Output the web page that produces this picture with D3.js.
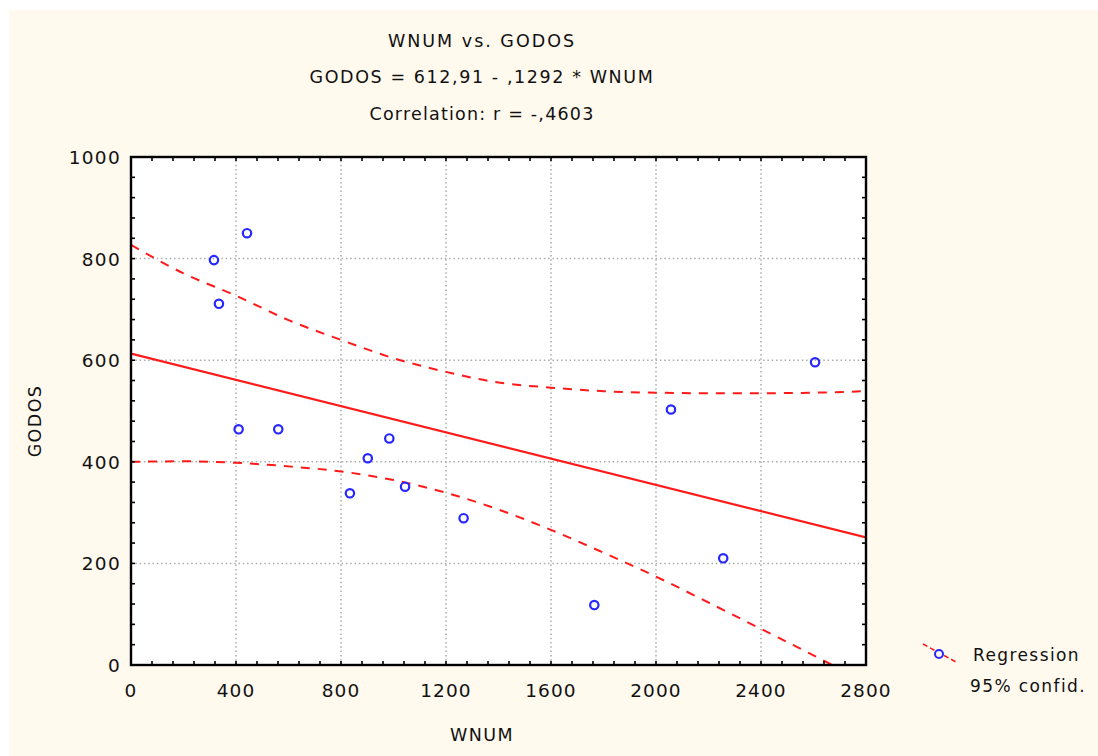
<!DOCTYPE html>
<html>
<head>
<meta charset="utf-8">
<script src="https://cdn.jsdelivr.net/npm/d3@7"></script>
<style>
  html, body { margin: 0; padding: 0; background: #ffffff; }
  svg { display: block; }
  text { font-family: "DejaVu Sans", sans-serif; fill: #111; }
</style>
</head>
<body>
<svg id="chart" width="1098" height="756"></svg>
<script>
// Observations: WNUM (x) and GODOS (y)
const wnum  = [316, 442, 335, 410, 561, 834, 902, 984, 1044, 1267, 1765, 2057, 2256, 2606];
const godos = [797, 850, 711, 464, 464, 338, 407, 446, 351, 289, 118, 503, 210, 596];

// Fitted line GODOS = 612.91 - 0.1292 * WNUM
const intercept = 612.91;
const slope = -0.1292;

// 95% confidence limits of the fitted line
const bandX     = [0, 200, 400, 600, 800, 1000, 1200, 1400, 1600, 1800, 2000, 2200, 2400, 2600, 2800];
const bandUpper = [827, 771, 727, 679, 640, 604, 577, 556, 546, 539, 536, 535, 535, 536, 539];
const bandLower = [400, 401, 398, 391, 381, 364, 339, 306, 266, 221, 174, 123, 71, 19, -35];

// Axis ticks
const xTicks = [0, 400, 800, 1200, 1600, 2000, 2400, 2800];
const yTicks = [0, 200, 400, 600, 800, 1000];

const titleLines = ["WNUM vs. GODOS", "GODOS = 612,91 - ,1292 * WNUM", "Correlation: r = -,4603"];
const legendLabels = ["Regression", "95% confid."];

const svg = d3.select("#chart");

// Cream panel with a thin white margin on the top and left
svg.append("rect").attr("x", 9).attr("y", 10).attr("width", 1098 - 9).attr("height", 756 - 10)
  .attr("fill", "#fff9ee");

const x = d3.scaleLinear().domain([0, 2800]).range([131, 866]);
const y = d3.scaleLinear().domain([0, 1000]).range([665, 157]);

// Plot area
svg.append("rect").attr("x", x(0)).attr("y", y(1000))
  .attr("width", x(2800) - x(0)).attr("height", y(0) - y(1000)).attr("fill", "#ffffff");

svg.append("clipPath").attr("id", "plotClip").append("rect")
  .attr("x", x(0)).attr("y", y(1000)).attr("width", x(2800) - x(0)).attr("height", y(0) - y(1000));

// Dotted grid
const grid = svg.append("g").attr("stroke", "#aaaaaa").attr("stroke-width", 1.5)
  .attr("stroke-dasharray", "1.5,2.8");
grid.selectAll("line.gx").data(xTicks.slice(1, -1)).join("line")
  .attr("x1", d => x(d)).attr("x2", d => x(d)).attr("y1", y(0)).attr("y2", y(1000));
grid.selectAll("line.gy").data(yTicks.slice(1, -1)).join("line")
  .attr("x1", x(0)).attr("x2", x(2800)).attr("y1", d => y(d)).attr("y2", d => y(d));

const plot = svg.append("g").attr("clip-path", "url(#plotClip)");

// Confidence bands
const bandLine = d3.line().x(d => x(d[0])).y(d => y(d[1])).curve(d3.curveMonotoneX);
[bandUpper, bandLower].forEach(vals => {
  plot.append("path").datum(bandX.map((bx, i) => [bx, vals[i]]))
    .attr("d", bandLine).attr("fill", "none").attr("stroke", "#ff1a1a")
    .attr("stroke-width", 2).attr("stroke-dasharray", "9,8");
});

// Regression line
plot.append("line")
  .attr("x1", x(0)).attr("y1", y(intercept))
  .attr("x2", x(2800)).attr("y2", y(intercept + slope * 2800))
  .attr("stroke", "#ff1a1a").attr("stroke-width", 2.2);

// Points
plot.selectAll("circle.pt").data(wnum.map((w, i) => [w, godos[i]])).join("circle")
  .attr("cx", d => x(d[0])).attr("cy", d => y(d[1])).attr("r", 4.2)
  .attr("fill", "none").attr("stroke", "#2626ff").attr("stroke-width", 2.2);

// Axes: frame with inward minor ticks on all sides
const axes = svg.append("g").attr("stroke", "#000").attr("stroke-width", 1.6);
const xMinor = d3.range(0, 2801, 80);
const yMinor = d3.range(0, 1001, 40);
axes.selectAll("line.tb").data(xMinor).join("line")
  .attr("x1", d => x(d)).attr("x2", d => x(d)).attr("y1", y(0)).attr("y2", y(0) - 4);
axes.selectAll("line.tt").data(xMinor).join("line")
  .attr("x1", d => x(d)).attr("x2", d => x(d)).attr("y1", y(1000)).attr("y2", y(1000) + 4);
axes.selectAll("line.tl").data(yMinor).join("line")
  .attr("x1", x(0)).attr("x2", x(0) + 4).attr("y1", d => y(d)).attr("y2", d => y(d));
axes.selectAll("line.tr").data(yMinor).join("line")
  .attr("x1", x(2800)).attr("x2", x(2800) - 4).attr("y1", d => y(d)).attr("y2", d => y(d));
svg.append("rect").attr("x", x(0)).attr("y", y(1000))
  .attr("width", x(2800) - x(0)).attr("height", y(0) - y(1000))
  .attr("fill", "none").attr("stroke", "#000").attr("stroke-width", 2.4);

// Tick labels
svg.selectAll("text.xt").data(xTicks).join("text")
  .attr("x", d => x(d)).attr("y", 697).attr("text-anchor", "middle")
  .attr("font-size", 18.5).attr("letter-spacing", 1.1).text(d => d);
svg.selectAll("text.yt").data(yTicks).join("text")
  .attr("x", 121).attr("y", d => y(d) + 7).attr("text-anchor", "end")
  .attr("font-size", 18.5).attr("letter-spacing", 1.3).text(d => d);

// Axis titles
svg.append("text").attr("x", 482).attr("y", 741).attr("text-anchor", "middle")
  .attr("font-size", 17.5).attr("letter-spacing", 1.4).text("WNUM");
svg.append("text").attr("transform", "translate(41,421) rotate(-90)").attr("text-anchor", "middle")
  .attr("font-size", 17.5).attr("letter-spacing", 1.4).text("GODOS");

// Titles
const titleY = [47, 83, 120];
const titleSpacing = [2.0, 1.6, 1.2];
titleLines.forEach((t, i) => {
  svg.append("text").attr("x", 482).attr("y", titleY[i]).attr("text-anchor", "middle")
    .attr("font-size", 17.5).attr("letter-spacing", titleSpacing[i]).text(t);
});

// Legend
const lg = svg.append("g");
lg.append("line").attr("x1", 923).attr("y1", 644).attr("x2", 956).attr("y2", 662)
  .attr("stroke", "#ff1a1a").attr("stroke-width", 1.6).attr("stroke-dasharray", "5,3");
lg.append("circle").attr("cx", 939).attr("cy", 654).attr("r", 4)
  .attr("fill", "#fff9ee").attr("stroke", "#2626ff").attr("stroke-width", 2);
lg.selectAll("text").data(legendLabels).join("text")
  .attr("x", (d, i) => i === 0 ? 973 : 970).attr("y", (d, i) => 661 + i * 31)
  .attr("font-size", 17).attr("letter-spacing", 1.4).text(d => d);
</script>
</body>
</html>
